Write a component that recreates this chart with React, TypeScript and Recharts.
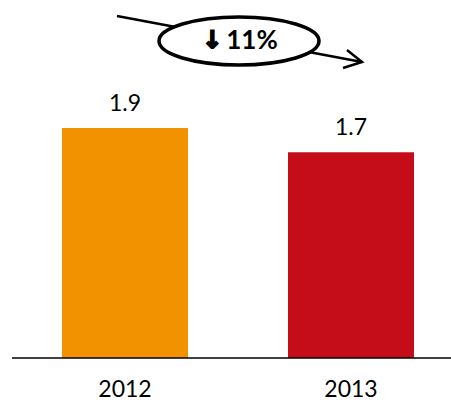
import React from 'react';
import { BarChart, Bar, XAxis, YAxis, Cell, LabelList, Customized } from 'recharts';

// values
const years = ['2012', '2013'];
const values = [1.9, 1.7];
const barColors = ['#F39200', '#C50D1A'];
const changeText = '11%';

const FONT = 'Lato, "Liberation Sans", sans-serif';

const data = years.map((year, i) => ({ year, value: values[i], color: barColors[i] }));

const YearTick = (props: any) => {
  const { x, y, payload } = props;
  return (
    <text x={x} y={y + 31} textAnchor="middle" fontFamily={FONT} fontSize={23} fill="#000">
      {payload.value}
    </text>
  );
};

// the "down 11%" callout above the bars
const Callout = () => (
  <g>
    <line x1={117} y1={16} x2={362} y2={62} stroke="#000" strokeWidth={2.5} />
    <polyline points="347,50 362,62 343,68" fill="none" stroke="#000" strokeWidth={2.5} />
    <ellipse cx={239} cy={41} rx={80} ry={24} fill="#fff" stroke="#000" strokeWidth={3.5} />
    <text
      x={212}
      y={48}
      textAnchor="middle"
      fontFamily='"DejaVu Sans"'
      fontWeight="bold"
      fontSize={24}
      fill="#000"
      stroke="#000"
      strokeWidth={1.8}
    >
      ↓
    </text>
    <text x={252} y={49} textAnchor="middle" fontFamily={FONT} fontWeight="bold" fontSize={26} fill="#000">
      {changeText}
    </text>
  </g>
);

export default function App() {
  return (
    <div style={{ position: 'absolute', left: 0, top: 0, width: 451, height: 403, overflow: 'hidden', background: '#fff' }}>
      <BarChart
        width={464}
        height={403}
        data={data}
        margin={{ top: 116, right: 0, left: 12, bottom: 0 }}
        barCategoryGap={0}
      >
        <XAxis
          dataKey="year"
          axisLine={{ stroke: '#000', strokeWidth: 1.5 }}
          tickLine={false}
          height={45}
          tick={<YearTick />}
          interval={0}
        />
        <YAxis hide domain={[0, 2]} />
        <Bar dataKey="value" barSize={126} isAnimationActive={false}>
          {data.map((d) => (
            <Cell key={d.year} fill={d.color} />
          ))}
          <LabelList
            dataKey="value"
            position="top"
            offset={17}
            fontFamily={FONT}
            fontSize={23}
            fill="#000"
            formatter={(v: any) => Number(v).toFixed(1)}
          />
        </Bar>
        <Customized component={Callout} />
      </BarChart>
    </div>
  );
}
